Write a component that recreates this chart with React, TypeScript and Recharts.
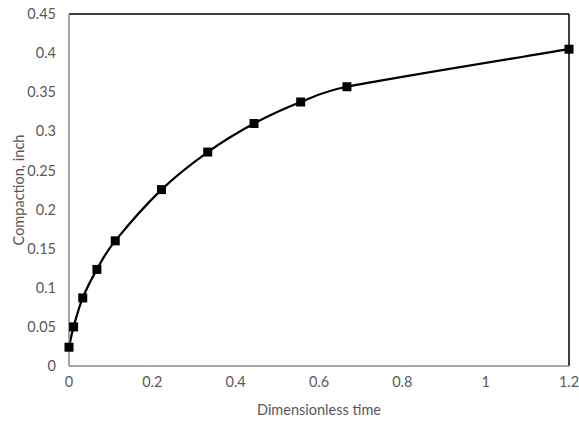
import { LineChart, Line, XAxis, YAxis, ReferenceLine } from 'recharts';

// Dimensionless time vs. compaction readings
const timeValues = [0, 0.011, 0.033, 0.067, 0.111, 0.222, 0.333, 0.444, 0.556, 0.667, 1.2];
const compactionValues = [0.024, 0.05, 0.087, 0.1235, 0.16, 0.2255, 0.2735, 0.31, 0.3375, 0.357, 0.405];

const xTicks = [0, 0.2, 0.4, 0.6, 0.8, 1, 1.2];
const yTicks = [0, 0.05, 0.1, 0.15, 0.2, 0.25, 0.3, 0.35, 0.4, 0.45];

const data = timeValues.map((t, i) => ({ t, c: compactionValues[i] }));

const FONT = 'Lato, "Open Sans", sans-serif';
const FONT_SIZE = 14.5;
const TICK_COLOR = '#595959';
const AXIS_COLOR = '#898989';

const dist = (a: number[], b: number[]) => Math.hypot(a[0] - b[0], a[1] - b[1]);

// Spreadsheet-style smoothed line: Catmull-Rom bezier with 1/6 tangents,
// control arms clamped to half of the segment length
function smoothCurve(context: any) {
  let pts: [number, number][] = [];
  return {
    areaStart() {},
    areaEnd() {},
    lineStart() {
      pts = [];
    },
    point(x: number, y: number) {
      pts.push([+x, +y]);
    },
    lineEnd() {
      if (!pts.length) return;
      context.moveTo(pts[0][0], pts[0][1]);
      for (let i = 0; i < pts.length - 1; i++) {
        const p0 = pts[Math.max(i - 1, 0)];
        const p1 = pts[i];
        const p2 = pts[i + 1];
        const p3 = pts[Math.min(i + 2, pts.length - 1)];
        const d12 = dist(p1, p2);
        const d02 = dist(p0, p2);
        const d13 = dist(p1, p3);
        const f0 = d02 / 6 < d12 / 2 ? 1 / 6 : d12 / 2 / (d02 || 1);
        const f1 = d13 / 6 < d12 / 2 ? 1 / 6 : d12 / 2 / (d13 || 1);
        context.bezierCurveTo(
          p1[0] + (p2[0] - p0[0]) * f0,
          p1[1] + (p2[1] - p0[1]) * f0,
          p2[0] - (p3[0] - p1[0]) * f1,
          p2[1] - (p3[1] - p1[1]) * f1,
          p2[0],
          p2[1]
        );
      }
    },
  };
}

function SquareDot({ cx, cy, index }: any) {
  if (cx === undefined || cy === undefined) return null;
  const s = 9;
  return <rect key={index} x={cx - s / 2} y={cy - s / 2} width={s} height={s} fill="#000" />;
}

function YLabel({ viewBox }: any) {
  const cx = 18;
  const cy = viewBox.y + viewBox.height / 2;
  return (
    <text
      x={cx}
      y={cy}
      transform={`rotate(-90 ${cx} ${cy})`}
      textAnchor="middle"
      dominantBaseline="central"
      fill={TICK_COLOR}
      fontSize={FONT_SIZE}
      fontFamily={FONT}
    >
      Compaction, inch
    </text>
  );
}

export default function App() {
  return (
    <div style={{ position: 'absolute', left: 0, top: 0, background: '#fff' }}>
      <LineChart width={579} height={421} data={data} margin={{ top: 14, right: 10, left: 0, bottom: 0 }}>
        <XAxis
          dataKey="t"
          type="number"
          domain={[0, 1.2]}
          ticks={xTicks}
          height={55}
          tickLine={false}
          tickSize={0}
          tickMargin={11}
          axisLine={{ stroke: AXIS_COLOR, strokeWidth: 1.5 }}
          tick={{ fill: TICK_COLOR, fontSize: FONT_SIZE, fontFamily: FONT }}
          tickFormatter={(v) => String(v)}
          label={{ value: 'Dimensionless time', position: 'insideBottom', offset: 6, fill: TICK_COLOR, fontSize: FONT_SIZE, fontFamily: FONT }}
        />
        <YAxis
          dataKey="c"
          type="number"
          domain={[0, 0.45]}
          ticks={yTicks}
          width={69}
          tickLine={false}
          tickSize={0}
          tickMargin={13}
          axisLine={{ stroke: AXIS_COLOR, strokeWidth: 1.5 }}
          tick={{ fill: TICK_COLOR, fontSize: FONT_SIZE, fontFamily: FONT }}
          tickFormatter={(v) => String(Math.round(v * 100) / 100)}
          label={<YLabel />}
        />
        <ReferenceLine y={0.45} stroke="#000" strokeWidth={1.5} ifOverflow="extendDomain" />
        <ReferenceLine x={1.2} stroke="#000" strokeWidth={1.5} ifOverflow="extendDomain" />
        <Line
          type={smoothCurve as any}
          dataKey="c"
          stroke="#000"
          strokeWidth={2.25}
          dot={<SquareDot />}
          activeDot={false}
          isAnimationActive={false}
        />
      </LineChart>
    </div>
  );
}
